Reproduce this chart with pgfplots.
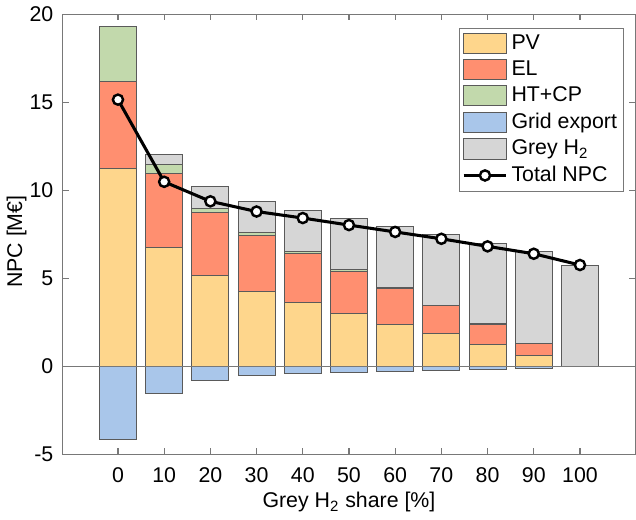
\documentclass[border=0pt]{standalone}
\usepackage{pgfplots}
\usepackage{pgfplotstable}
\pgfplotsset{compat=1.18}
\usepackage{fontspec}
\setmainfont{Liberation Sans}
\definecolor{cPV}{RGB}{254,214,140}
\definecolor{cEL}{RGB}{255,143,112}
\definecolor{cHT}{RGB}{194,217,172}
\definecolor{cGrid}{RGB}{169,198,234}
\definecolor{cGrey}{RGB}{214,214,214}
\definecolor{cEdge}{RGB}{90,90,90}
\definecolor{cAxis}{RGB}{120,120,120}

\pgfplotstableread{
x   PV    EL    HT    Grey  Grid   Total
0   11.25 4.93  3.13  0     -4.15  15.15
10  6.75  4.20  0.50  0.57  -1.54  10.48
20  5.18  3.56  0.24  1.23  -0.83  9.37
30  4.27  3.14  0.17  1.77  -0.54  8.79
40  3.60  2.79  0.15  2.33  -0.44  8.42
50  3.00  2.39  0.13  2.89  -0.38  8.02
60  2.39  2.04  0.05  3.47  -0.31  7.63
70  1.85  1.58  0.04  4.03  -0.27  7.24
80  1.21  1.18  0.02  4.59  -0.19  6.81
90  0.62  0.67  0.01  5.21  -0.12  6.39
100 0     0     0     5.75  0      5.75
}\data

\pgfplotsset{
  barlegend/.style={legend image code/.code={\draw[##1] (0pt,-5pt) rectangle (21pt,5pt);}},
  linelegend/.style={legend image code/.code={\draw[mark repeat=2,mark phase=2,##1] plot coordinates {(0pt,0pt) (10.5pt,0pt) (21pt,0pt)};}},
}

\begin{document}
\begin{tikzpicture}[font=\fontsize{10.5}{12.6}\selectfont]
\begin{axis}[width=282pt, height=216.5pt, scale only axis,
  xmin=-12, xmax=112, ymin=-5, ymax=20,
  axis line style={draw=cAxis, line width=0.6pt},
  tick style={draw=cAxis, line width=0.6pt},
  xtick={0,10,...,100}, ytick={-5,0,...,20},
  tick align=inside, major tick length=3pt,
  /pgf/number format/assume math mode=true,
  xticklabel style={anchor=base, yshift=-14pt},
  yticklabel style={xshift=-1pt},
  xlabel={Grey H\textsubscript{2} share [\%]},
  ylabel={NPC [M€]},
  xlabel style={at={(axis description cs:0.5,0)}, anchor=base, yshift=-26.5pt},
  ylabel style={at={(axis description cs:-0.08,0.483)}, anchor=center},
  legend cell align=left,
  legend style={at={(rel axis cs:1,1)}, anchor=north east, xshift=-5.5pt, yshift=-6.5pt,
    draw=cAxis, line width=0.5pt, fill=white, inner sep=1.5pt, row sep=0.5pt,
    nodes={inner sep=1.8pt}},
]
\addplot[ybar stacked, bar width=8, fill=cPV, draw=cEdge, line width=0.5pt, barlegend] table[x=x, y=PV]{\data};
\addlegendentry{PV}
\addplot[ybar stacked, bar width=8, fill=cEL, draw=cEdge, line width=0.5pt, barlegend] table[x=x, y=EL]{\data};
\addlegendentry{EL}
\addplot[ybar stacked, bar width=8, fill=cHT, draw=cEdge, line width=0.5pt, barlegend] table[x=x, y=HT]{\data};
\addlegendentry{HT+CP}
\addlegendimage{barlegend, fill=cGrid, draw=cEdge, line width=0.5pt}
\addlegendentry{Grid export}
\addplot[ybar stacked, bar width=8, fill=cGrey, draw=cEdge, line width=0.5pt, barlegend] table[x=x, y=Grey]{\data};
\addlegendentry{Grey H\textsubscript{2}}
\addplot[ybar, stack plots=false, bar width=8, bar shift=0pt, fill=cGrid, draw=cEdge, line width=0.5pt, forget plot] table[x=x, y=Grid]{\data};
\addplot[cAxis, line width=0.5pt, stack plots=false, forget plot] coordinates {(-12,0) (112,0)};
\addplot[black, line width=1.5pt, stack plots=false, mark=*, mark size=2.5pt,
  mark options={fill=white, draw=black, line width=1.2pt}, linelegend] table[x=x, y=Total]{\data};
\addlegendentry{Total NPC}
\end{axis}
\end{tikzpicture}
\end{document}
